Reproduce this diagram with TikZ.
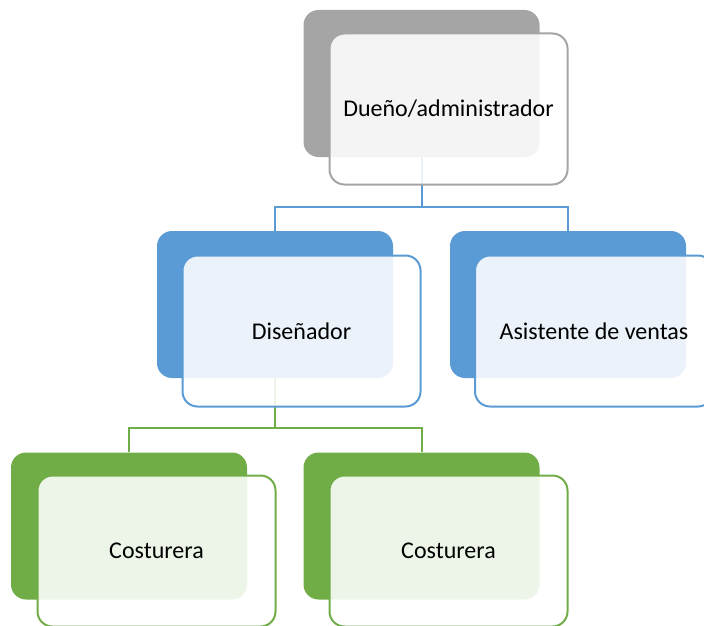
\documentclass[tikz,border=0pt]{standalone}
\usepackage{fontspec}
\setmainfont{Carlito}
\usepackage{tikz}
\usetikzlibrary{positioning}
\definecolor{gris}{HTML}{A5A5A5}
\definecolor{azul}{HTML}{5B9BD5}
\definecolor{verde}{HTML}{70AD47}
\tikzset{
	fondo/.style={fill=#1, rounded corners=15pt, minimum width=236pt, minimum height=147pt, inner sep=0pt},
	frente/.style={draw=#1, line width=2pt, fill=white, fill opacity=0.88, text opacity=1, rounded corners=15pt, minimum width=238pt, minimum height=151pt, inner sep=0pt, font=\fontsize{24}{28}\selectfont},
	linea/.style={draw=#1, line width=2pt}
}

\begin{document}
\begin{tikzpicture}[x=1pt, y=-1pt]
		%%%%% START %%%%%
		\useasboundingbox (0, 0) rectangle (704, 626);
		
		% cajas de fondo
		\node[fondo=gris] (duenoB) at (421.5, 83.5) {};
		\node[fondo=azul] (disenoB) at (275, 304.5) {};
		\node[fondo=azul] (asistB) at (568, 304.5) {};
		\node[fondo=verde] (costuA) at (129, 526) {};
		\node[fondo=verde] (costuB) at (421.5, 526) {};
		
		% conectores
		\draw[linea=azul] (duenoB.south) -- ++(0, 50) -| (disenoB.north);
		\draw[linea=azul] (duenoB.south) -- ++(0, 50) -| (asistB.north);
		\draw[linea=verde] (disenoB.south) -- ++(0, 50) -| (costuA.north);
		\draw[linea=verde] (disenoB.south) -- ++(0, 50) -| (costuB.north);
		
		% cajas de frente
		\node[frente=gris] (dueno) at (448.5, 109) {Dueño/administrador};
		\node[frente=azul] (diseno) at (301.5, 331) {Diseñador};
		\node[frente=azul] (asist) at (594, 331) {Asistente de ventas};
		\node[frente=verde] (costu1) at (156.5, 551) {Costurera};
		\node[frente=verde] (costu2) at (448.5, 551) {Costurera};
		
		%%%%% END %%%%%
	\end{tikzpicture}
\end{document}
